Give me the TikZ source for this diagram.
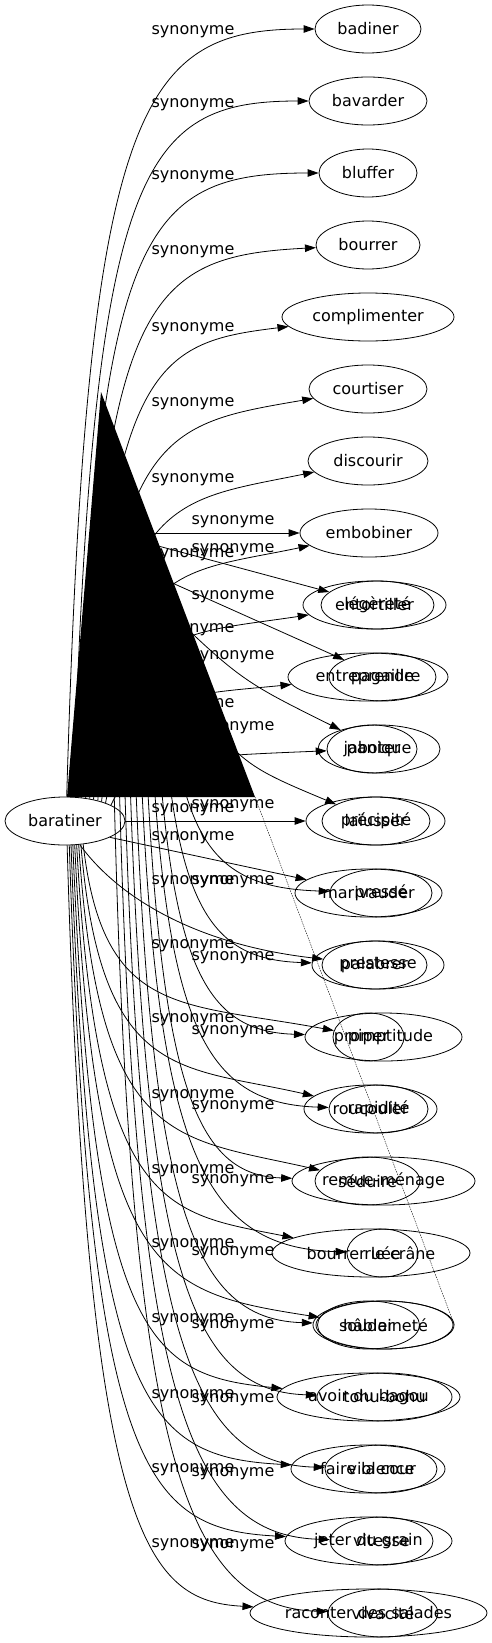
\documentclass[tikz,border=0pt]{standalone}
\usepackage{fontspec}
\setmainfont{DejaVu Sans}
\usetikzlibrary{shapes.geometric,arrows.meta,calc}
\tikzset{
  nd/.style={draw, ellipse, inner sep=0pt, minimum height=48pt, line width=0.8pt, font=\fontsize{16}{19}\selectfont},
  lbl/.style={inner sep=0pt, font=\fontsize{16}{19}\selectfont},
  edg/.style={line width=0.8pt, -{Triangle[length=11pt,width=7.5pt]}},
}
\newcommand{\ctext}[1]{\makebox[0pt]{#1}}
\begin{document}
\begin{tikzpicture}[x=1pt,y=-1pt]
\useasboundingbox (0,0) rectangle (492,1643);
% source node
\node[nd, minimum width=120pt] (bar) at (65,821) {\ctext{baratiner}};
% target nodes
\foreach \nm/\cx/\cy/\w/\txt in {
  badiner/368/29/106/badiner,
  bavarder/368/101/118/bavarder,
  bluffer/368/173/98/bluffer,
  bourrer/368/245/104/bourrer,
  complimenter/368/317/172/complimenter,
  courtiser/368/389/118/courtiser,
  discourir/368/461/120/discourir,
  embobiner/369/533/138/embobiner,
  entortiller/374.5/605/143/entortiller,
  legerete/377.5/605/113/légèreté,
  entreprendre/368/677/160/entreprendre,
  pagaille/382.5/677/107/pagaille,
  panique/379/749/122/panique,
  jaboter/372/749/90/jaboter,
  laiusser/375.5/821/139/laïusser,
  precipite/376/821/108/précipité,
  marivauder/368.5/893/147/marivauder,
  presse/381/893/102/pressé,
  prestesse/378/965/132/prestesse,
  palabrer/374.5/965/105/palabrer,
  promptitude/383.5/1037/157/promptitude,
  piper/368.5/1037/71/piper,
  roucouler/370.5/1109/133/roucouler,
  rapidite/378.5/1109/99/rapidité,
  remue/383.5/1181/183/remue-ménage,
  seduire/367.5/1181/105/séduire,
  bourrerlecrane/371/1253/198/bourrer le crâne,
  ruee/382.5/1253/71/ruée,
  soudainete/383.5/1325/141/soudaineté,
  habler/368.5/1325/102/hâbler,
  avoirdubagou/368.5/1397/183/avoir du bagou,
  tohubohu/384.5/1397/135/tohu-bohu,
  fairelacour/368/1469/154/faire la cour,
  violence/381/1469/112/violence,
  jeterdugrain/368.5/1541/167/jeter du grain,
  vitesse/381.5/1541/103/vitesse,
  raconter/368.5/1613/237/raconter des salades,
  vivacite/383/1613/110/vivacité}{
  \node[nd, minimum width=\w pt] (\nm) at (\cx,\cy) {\ctext{\txt}};
}
\node[nd, minimum width=137pt] (soudaineteb) at (384.5,1325) {};
% graph 1 edges, upward
\foreach \nm/\ang/\yy in {badiner/86/29, bavarder/71/101, bluffer/63/173, bourrer/55/245,
  complimenter/48.5/317, courtiser/42.5/389, discourir/37/461, embobiner/32.4/533,
  entortiller/28/605, entreprendre/24/677, jaboter/19.5/749}{
  \pgfmathsetmacro\mydy{800-\yy}
  \pgfmathsetmacro\myf{max(0,min(1,(600-\mydy)/330))}
  \pgfmathsetmacro\mypx{140+40*\myf}
  \pgfmathsetmacro\mypy{\yy+0.15*\mydy*\myf}
  \pgfmathsetmacro\myqy{-0.9*\mydy}
  \draw[edg] (bar.\ang) .. controls ($(bar.\ang)+(20,\myqy)$) and (\mypx,\mypy) .. (\nm);
}
\draw[edg] (bar) -- (laiusser);
\draw[edg] (bar.-20) -- (marivauder);
\draw[edg] (bar.-58) .. controls (120,900) and (200,945) .. (palabrer);
% graph 1 edges, downward
\foreach \nm/\ang/\yy in {piper/-52/1037, roucouler/-56/1109, seduire/-60/1181,
  bourrerlecrane/-64/1253, habler/-68/1325, avoirdubagou/-72/1397,
  fairelacour/-76/1469, jeterdugrain/-80/1541, raconter/-85/1613}{
  \pgfmathsetmacro\mydy{\yy-845}
  \pgfmathsetmacro\myf{max(0,min(1,(600-\mydy)/330))}
  \pgfmathsetmacro\mypx{145+35*\myf}
  \pgfmathsetmacro\mypy{\yy-12-0.12*\mydy*\myf}
  \pgfmathsetmacro\myqy{0.9*\mydy}
  \draw[edg] (bar.\ang) .. controls ($(bar.\ang)+(20,\myqy)$) and (\mypx,\mypy) .. (\nm);
}
% graph 2 edges
\coordinate (s2) at (110,533);
\draw[edg] (s2) -- (embobiner);
\draw[edg] (s2) -- (legerete);
\draw[edg] ($(s2)+(40,40)$) -- (pagaille);
\draw[edg] ($(s2)+(40,60)$) .. controls (240,680) .. (panique);
\draw[edg] ($(s2)+(45,90)$) .. controls (230,760) .. (precipite);
\foreach \nm/\i/\yy in {presse/0/893, prestesse/1/965, promptitude/2/1037, rapidite/3/1109,
  remue/4/1181, ruee/5/1253, soudainete/6/1325, tohubohu/7/1397, violence/8/1469,
  vitesse/9/1541, vivacite/10/1613}{
  \pgfmathsetmacro\mydy{\yy-557}
  \pgfmathsetmacro\mysx{50-5*\i}
  \pgfmathsetmacro\myqy{24+0.8*\mydy}
  \pgfmathsetmacro\mysxx{\mysx+10}
  \pgfmathsetmacro\mypx{195-3*\i}
  \pgfmathsetmacro\mypy{\yy-6}
  \draw[edg] ($(s2)+(\mysx,24)$) .. controls ($(s2)+(\mysxx,\myqy)$) and (\mypx,\mypy) .. (\nm);
}
% labels
\foreach \yy [count=\k] in {32,105,177,252,329,404,480,555,630,705,780,810,838,882,946,1020,1096,1171,1245,1320,1396,1470,1545}{
  \node[lbl] (la\k) at (193,\yy) {synonyme};
}
\foreach \yy [count=\k] in {522,550,597,657,728,806,882,958,1032,1107,1181,1253,1326,1400,1474,1546}{
  \node[lbl] (lb\k) at (233,\yy) {synonyme};
}
% artefacts
\coordinate (triT) at (101,392);
\coordinate (triL) at (67,797);
\coordinate (triR) at (255,797);
\fill (triT) -- (triL) -- (triR) -- cycle;
\draw[line width=0.4pt, dash pattern=on 1.5pt off 1pt] (triR) -- (soudainete.east);
\end{tikzpicture}
\end{document}
